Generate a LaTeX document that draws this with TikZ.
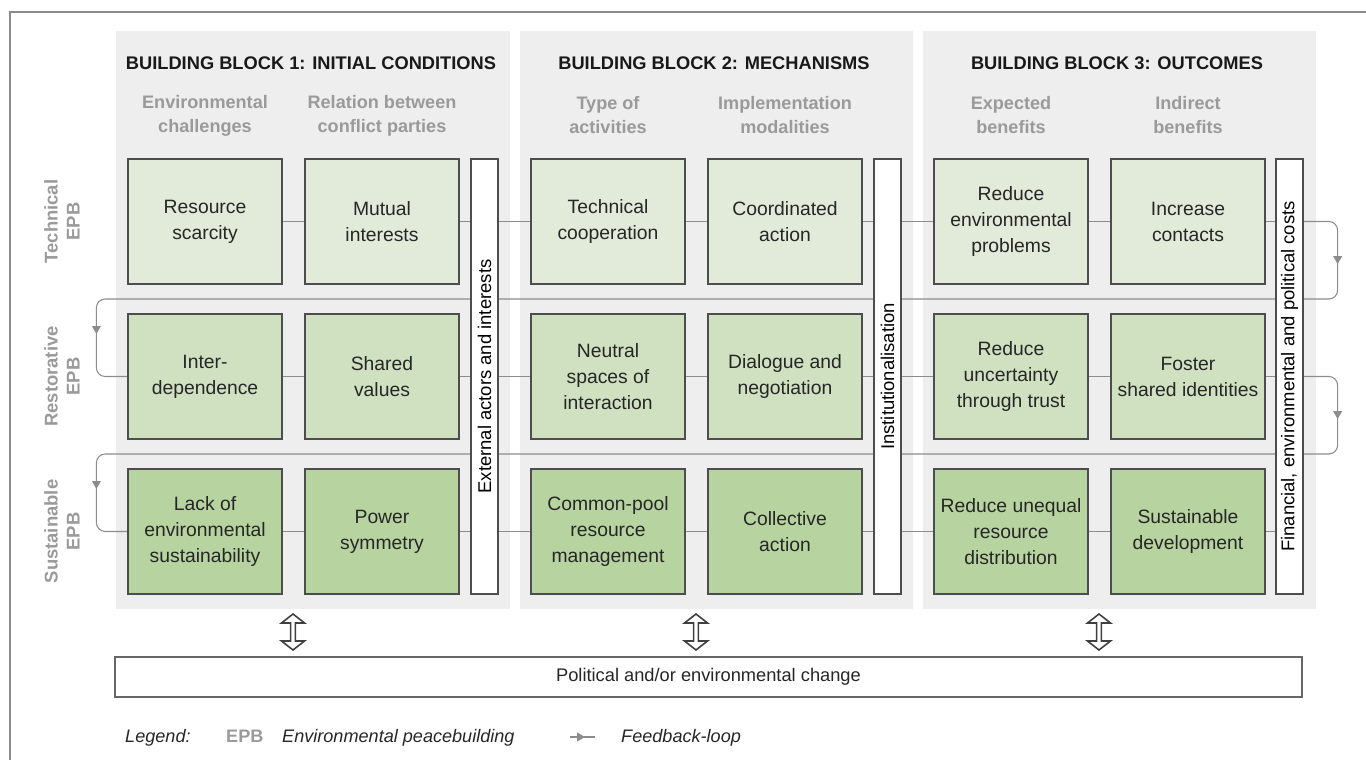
\documentclass[tikz,border=0pt]{standalone}
\usepackage{fontspec}
\setmainfont{Liberation Sans}
\usetikzlibrary{arrows.meta,positioning,calc,shapes.arrows,decorations.markings,backgrounds}
\definecolor{panelgray}{HTML}{EEEEEE}
\definecolor{techgreen}{HTML}{E2EBD9}
\definecolor{restgreen}{HTML}{D0E1C1}
\definecolor{sustgreen}{HTML}{B7D4A0}
\definecolor{linegray}{HTML}{8C8C8C}
\definecolor{headgray}{HTML}{9A9A9A}
\definecolor{edgegray}{HTML}{4D4D4D}

\begin{document}
\begin{tikzpicture}[x=0.02cm,y=-0.02cm,>=Stealth,
  box/.style={draw=edgegray,line width=0.7pt,minimum width=3.08cm,minimum height=2.5cm,align=center,inner sep=1pt,text=black!85,font=\fontsize{11}{14.8}\selectfont},
  bar/.style={draw=edgegray,fill=white,line width=0.7pt,minimum width=0.54cm,minimum height=8.7cm,inner sep=0pt},
  bartext/.style={rotate=90,font=\fontsize{10.5}{12}\selectfont},
  title/.style={text=black!90,font=\bfseries\fontsize{10.4}{12}\selectfont},
  sub/.style={align=center,text=headgray,font=\bfseries\fontsize{10.3}{13.7}\selectfont},
  rowlab/.style={rotate=90,align=center,text=headgray,font=\bfseries\fontsize{10.5}{12.5}\selectfont},
  link/.style={color=linegray,line width=0.6pt},
  fb/.style={link,rounded corners=5pt,postaction={decorate},decoration={markings,
    mark=at position 1.455cm with {\arrow{Triangle[width=5pt,length=4.5pt]}},
    mark=at position -1.395cm with {\arrow{Triangle[width=5pt,length=4.5pt]}}}},
  fbkey/.style={link,postaction={decorate},decoration={markings,
    mark=at position 0.6 with {\arrow{Triangle[width=5pt,length=4.5pt]}}}},
  updn/.style={double arrow,rotate=90,draw=black!75,fill=white,line width=0.9pt,minimum height=0.72cm,minimum width=0.46cm,double arrow head extend=0.06cm,double arrow tip angle=104,inner sep=0pt},
  legend/.style={anchor=base west,text=black!85,font=\itshape\fontsize{10.3}{12}\selectfont}]
  \useasboundingbox (0,0) rectangle (1366,760);
  \draw[linegray,line width=1pt] (1366,12) -- (10,12) -- (10,760);

  % block headings
  \node[title] (t1) at (311,63) {BUILDING BLOCK 1: INITIAL CONDITIONS};
  \node[title] (t2) at (714,63) {BUILDING BLOCK 2: MECHANISMS};
  \node[title] (t3) at (1117,63) {BUILDING BLOCK 3: OUTCOMES};
  \node[sub] (h1) at (205,116) {Environmental\\challenges};
  \node[sub] (h2) at (382,116) {Relation between\\conflict parties};
  \node[sub] (h3) at (608,115) {Type of\\activities};
  \node[sub] (h4) at (785,115) {Implementation\\modalities};
  \node[sub] (h5) at (1011,115) {Expected\\benefits};
  \node[sub] (h6) at (1188,115) {Indirect\\benefits};

  % row labels
  \node[rowlab] (l1) at (62,221.5) {Technical\\EPB};
  \node[rowlab] (l2) at (62,376.5) {Restorative\\EPB};
  \node[rowlab] (l3) at (62,531.5) {Sustainable\\EPB};

  % technical row
  \node[box,fill=techgreen] (r1c1) at (205,221.5) {Resource\\scarcity};
  \node[box,fill=techgreen] (r1c2) at (382,221.5) {Mutual\\interests};
  \node[box,fill=techgreen] (r1c3) at (608,221.5) {Technical\\cooperation};
  \node[box,fill=techgreen] (r1c4) at (785,221.5) {Coordinated\\action};
  \node[box,fill=techgreen] (r1c5) at (1011,221.5) {Reduce\\environmental\\problems};
  \node[box,fill=techgreen] (r1c6) at (1188,221.5) {Increase\\contacts};
  % restorative row
  \node[box,fill=restgreen] (r2c1) at (205,376.5) {Inter-\\dependence};
  \node[box,fill=restgreen] (r2c2) at (382,376.5) {Shared\\values};
  \node[box,fill=restgreen] (r2c3) at (608,376.5) {Neutral\\spaces of\\interaction};
  \node[box,fill=restgreen] (r2c4) at (785,376.5) {Dialogue and\\negotiation};
  \node[box,fill=restgreen] (r2c5) at (1011,376.5) {Reduce\\uncertainty\\through trust};
  \node[box,fill=restgreen] (r2c6) at (1188,376.5) {Foster\\shared identities};
  % sustainable row
  \node[box,fill=sustgreen] (r3c1) at (205,531.5) {Lack of\\environmental\\sustainability};
  \node[box,fill=sustgreen] (r3c2) at (382,531.5) {Power\\symmetry};
  \node[box,fill=sustgreen] (r3c3) at (608,531.5) {Common-pool\\resource\\management};
  \node[box,fill=sustgreen] (r3c4) at (785,531.5) {Collective\\action};
  \node[box,fill=sustgreen] (r3c5) at (1011,531.5) {Reduce unequal\\resource\\distribution};
  \node[box,fill=sustgreen] (r3c6) at (1188,531.5) {Sustainable\\development};

  % cross-cutting bars
  \node[bar] (bar1) at (484.5,376.5) {};
  \node[bartext] at (bar1) {External actors and interests};
  \node[bar] (bar2) at (887.5,376.5) {};
  \node[bartext] at (bar2) {Institutionalisation};
  \node[bar] (bar3) at (1289.5,376.5) {};
  \node[bartext] at (bar3) {Financial, environmental and political costs};

  % change box and exchange arrows
  \node[draw=black!60,line width=0.9pt,minimum width=23.74cm,minimum height=0.8cm,font=\fontsize{10.4}{12}\selectfont,text=black!85] (chg) at (708.5,677) {Political and/or environmental change};
  \foreach \x/\n in {293/1,696/2,1099/3}
    \node[updn] (ex\n) at (\x,632) {};

  % legend
  \node[legend] (leg) at (119,742) {Legend:};
  \node[anchor=base west,text=headgray,font=\bfseries\fontsize{10.3}{12}\selectfont] (epb) at (220,742) {EPB};
  \node[legend] (epbtext) at (276,742) {Environmental peacebuilding};
  \coordinate (ks) at (570,737);
  \coordinate (ke) at (595,737);
  \draw[fbkey] (ks) -- (ke);
  \node[legend] (fbtext) at (615,742) {Feedback-loop};

  \begin{scope}[on background layer]
    \fill[panelgray] (116,31) rectangle (510,609);
    \fill[panelgray] (520,31) rectangle (913,609);
    \fill[panelgray] (923,31) rectangle (1316,609);
    \foreach \r in {1,2,3}
      \draw[link] (r\r c1) -- (r\r c6 -| bar3);
    % feedback loops into the next row
    \foreach \r/\s in {1/2,2/3}
      \draw[fb] (r\r c6 -| bar3.east) -- ++(34,0) |- ($(r\s c1.west)+(-31,-77.5)$) |- (r\s c1.west);
  \end{scope}
\end{tikzpicture}
\end{document}
